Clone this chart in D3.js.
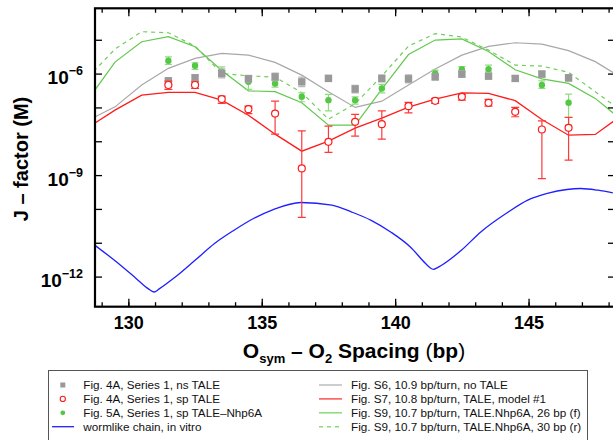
<!DOCTYPE html>
<html>
<head>
<meta charset="utf-8">
<script src="https://cdn.jsdelivr.net/npm/d3@7"></script>
<style>
  body { margin: 0; background: #fff; }
  svg { font-family: "Liberation Sans", Arial, sans-serif; }
</style>
</head>
<body>
<div id="chart"></div>
<script>
// measured points (M) at each O_sym-O2 spacing (bp)
var spacing = [131.5, 132.5, 133.5, 134.5, 135.5, 136.5, 137.5, 138.5, 139.5, 140.5, 141.5, 142.5, 143.5, 144.5, 145.5, 146.5];

var nsTale   = [6.1e-7, 7.5e-7, 1.01e-6, 7.0e-7, 8.0e-7, 5.7e-7, 7.2e-7, 3.5e-7, 7.2e-7, 7.0e-7, 8.0e-7, 9.7e-7, 8.4e-7, 7.2e-7, 9.7e-7, 7.5e-7];
var nsTaleLo = [4.9e-7, 6.0e-7, 7.4e-7, 5.6e-7, 6.2e-7, 4.1e-7, 5.9e-7, 2.7e-7, 5.7e-7, 5.3e-7, 6.5e-7, 7.7e-7, 7.0e-7, 6.0e-7, 7.9e-7, 6.0e-7];
var nsTaleHi = [7.6e-7, 9.3e-7, 1.38e-6, 8.8e-7, 1.03e-6, 7.9e-7, 8.8e-7, 4.5e-7, 9.1e-7, 9.2e-7, 9.8e-7, 1.22e-6, 1.01e-6, 8.6e-7, 1.19e-6, 9.4e-7];

var spTale   = [4.6e-7, 4.6e-7, 1.76e-7, 8.9e-8, 6.6e-8, 1.57e-9, 9.6e-9, 3.75e-8, 3.2e-8, 1.09e-7, 1.57e-7, 2.06e-7, 1.37e-7, 7.4e-8, 2.23e-8, 2.5e-8];
var spTaleLo = [3.4e-7, 3.65e-7, 1.31e-7, 6.6e-8, 1.62e-8, 5.6e-11, 4.7e-9, 1.42e-8, 1.15e-8, 6.9e-8, 1.31e-7, 1.64e-7, 1.09e-7, 5.3e-8, 7.9e-10, 2.76e-9];
var spTaleHi = [6.0e-7, 5.7e-7, 2.16e-7, 1.09e-7, 1.53e-7, 2.03e-8, 2.8e-8, 6.2e-8, 7.9e-8, 1.41e-7, 1.85e-7, 2.47e-7, 1.73e-7, 1.0e-7, 4.0e-8, 5.1e-8];

var nhp6a   = [2.39e-6, 1.70e-6, 1.13e-6, 5.7e-7, 5.1e-7, 2.06e-7, 1.64e-7, 1.64e-7, 3.65e-7, 7.0e-7, 1.01e-6, 1.33e-6, 1.36e-6, 7.2e-7, 4.6e-7, 1.37e-7];
var nhp6aLo = [1.87e-6, 1.33e-6, 8.0e-7, 3.4e-7, 4.0e-7, 1.47e-7, 7.9e-8, 1.25e-7, 2.7e-7, 6.0e-7, 8.0e-7, 1.1e-6, 1.13e-6, 6.2e-7, 3.65e-7, 3.0e-8];
var nhp6aHi = [3.14e-6, 2.09e-6, 1.59e-6, 7.7e-7, 6.4e-7, 2.7e-7, 2.43e-7, 2.06e-7, 4.8e-7, 8.2e-7, 1.27e-6, 1.6e-6, 1.78e-6, 8.4e-7, 6.1e-7, 2.47e-7];

// model curves, one value per spacing
var modelSpacing = [128.5, 129.5, 130.5, 131.5, 132.5, 133.5, 134.5, 135.5, 136.5, 137.5, 138.5, 139.5, 140.5, 141.5, 142.5, 143.5, 144.5, 145.5, 146.5, 147.5, 148.5];
var noTaleModel = [4.2e-8, 1.04e-7, 4.57e-7, 1.43e-6, 2.82e-6, 3.96e-6, 3.52e-6, 2.14e-6, 9.0e-7, 2.9e-7, 1.0e-7, 1.53e-7, 4.57e-7, 1.36e-6, 3.52e-6, 6.38e-6, 8.15e-6, 7.46e-6, 4.79e-6, 2.26e-6, 7.36e-7];
var taleModel1  = [2.61e-8, 8.3e-8, 2.31e-7, 2.78e-7, 2.78e-7, 1.64e-7, 5.9e-8, 1.62e-8, 5.1e-9, 1.01e-8, 2.44e-8, 4.8e-8, 1.02e-7, 1.76e-7, 2.7e-7, 2.59e-7, 1.59e-7, 4.4e-8, 1.51e-8, 1.59e-8, 5.9e-8];
var nhp26Model  = [1.76e-7, 2.19e-6, 8.73e-6, 1.23e-5, 6.21e-6, 1.23e-6, 3.1e-7, 2.93e-7, 1.37e-7, 2.99e-8, 2.99e-8, 3.48e-7, 3.65e-6, 9.79e-6, 1.06e-5, 4.48e-6, 1.3e-6, 6.97e-7, 5.13e-7, 1.85e-7, 4.2e-8];
var nhp30Model  = [7.87e-7, 5.31e-6, 1.73e-5, 1.61e-5, 6.52e-6, 1.01e-6, 8.55e-7, 7.87e-7, 2.74e-7, 4.51e-8, 1.29e-7, 8.43e-7, 6.52e-6, 1.51e-5, 1.2e-5, 4.95e-6, 1.78e-6, 1.67e-6, 1.09e-6, 2.9e-7, 7.78e-8];

// wormlike chain, in vitro
var wlcSpacing = [128.75, 129.56, 130.30, 130.74, 130.96, 131.17, 131.76, 132.50, 133.23, 133.96, 134.69, 135.43, 136.47, 137.63, 138.37, 139.10, 139.83, 140.57, 141.14, 141.30, 141.44, 141.59, 141.74, 142.48, 143.21, 144.24, 144.97, 145.70, 146.44, 146.95, 147.60, 148.16];
var wlcJ = [8.4e-12, 2.7e-12, 8.7e-13, 4.4e-13, 3.5e-13, 4.4e-13, 9.7e-13, 3.03e-12, 9.5e-12, 2.34e-11, 5.2e-11, 9.6e-11, 1.55e-10, 1.29e-10, 8.1e-11, 4.6e-11, 2.09e-11, 7.5e-12, 2.43e-12, 1.85e-12, 1.64e-12, 1.85e-12, 2.16e-12, 6.0e-12, 2.09e-11, 8.1e-11, 1.81e-10, 2.86e-10, 3.75e-10, 4.02e-10, 3.57e-10, 2.97e-10];

var xMajor = [130, 135, 140, 145];
var xMinor = d3.range(129, 149);
var yDecades = [1e-12, 1e-11, 1e-10, 1e-9, 1e-8, 1e-7, 1e-6, 1e-5];
var yLabels = [[1e-12, "12"], [1e-9, "9"], [1e-6, "6"]];

var legendLeft = [
    { label: "Fig. 4A, Series 1, ns TALE", kind: "square" },
    { label: "Fig. 4A, Series 1, sp TALE", kind: "circle" },
    { label: "Fig. 5A, Series 1, sp TALE\u2013Nhp6A", kind: "dot" },
    { label: "wormlike chain, in vitro", kind: "blue" }
];
var legendRight = [
    { label: "Fig. S6, 10.9 bp/turn, no TALE", color: "#bdbdbd", dash: null },
    { label: "Fig. S7, 10.8 bp/turn, TALE, model #1", color: "#ff5050", dash: null },
    { label: "Fig. S9, 10.7 bp/turn, TALE.Nhp6A, 26 bp (f)", color: "#88dd77", dash: null },
    { label: "Fig. S9, 10.7 bp/turn, TALE.Nhp6A, 30 bp (r)", color: "#88dd77", dash: "4,4" }
];

(function () {
    var width = 613, height = 440;
    var pLeft = 95, pRight = 615, pTop = 8.3, pBottom = 306.7;

    var svg = d3.select("#chart").append("svg")
        .attr("width", width)
        .attr("height", height);

    var x = d3.scaleLinear().domain([128.75, 148.24]).range([pLeft, pRight]);
    var y = d3.scaleLog().domain([Math.pow(10, -12.89), Math.pow(10, -4.07)]).range([pBottom, pTop]);

    svg.append("defs").append("clipPath").attr("id", "plot")
        .append("rect")
        .attr("x", pLeft).attr("y", pTop)
        .attr("width", pRight - pLeft).attr("height", pBottom - pTop);

    var plot = svg.append("g").attr("clip-path", "url(#plot)");

    function lineOf(xs, ys, curve) {
        return d3.line()
            .x(function(d, i) { return x(xs[i]); })
            .y(function(d) { return y(d); })
            .curve(curve || d3.curveLinear)(ys);
    }

    // model curves
    plot.append("path").attr("d", lineOf(wlcSpacing, wlcJ, d3.curveMonotoneX))
        .attr("fill", "none").attr("stroke", "#1f1fff").attr("stroke-width", 1.3);
    plot.append("path").attr("d", lineOf(modelSpacing, noTaleModel))
        .attr("fill", "none").attr("stroke", "#a8a8a8").attr("stroke-width", 1.2);
    plot.append("path").attr("d", lineOf(modelSpacing, nhp30Model))
        .attr("fill", "none").attr("stroke", "#6fce5a").attr("stroke-width", 1.2)
        .attr("stroke-dasharray", "4,4");
    plot.append("path").attr("d", lineOf(modelSpacing, nhp26Model))
        .attr("fill", "none").attr("stroke", "#62c94f").attr("stroke-width", 1.2);
    plot.append("path").attr("d", lineOf(modelSpacing, taleModel1))
        .attr("fill", "none").attr("stroke", "#ff1c1c").attr("stroke-width", 1.3);

    function errorBars(lo, hi, color, cap, sw) {
        var g = plot.append("g").attr("stroke", color).attr("stroke-width", sw);
        spacing.forEach(function(s, i) {
            var cx = x(s);
            g.append("line").attr("x1", cx).attr("x2", cx).attr("y1", y(lo[i])).attr("y2", y(hi[i]));
            g.append("line").attr("x1", cx - cap).attr("x2", cx + cap).attr("y1", y(lo[i])).attr("y2", y(lo[i]));
            g.append("line").attr("x1", cx - cap).attr("x2", cx + cap).attr("y1", y(hi[i])).attr("y2", y(hi[i]));
        });
    }

    // TALE-Nhp6A
    errorBars(nhp6aLo, nhp6aHi, "#8fdc80", 3.5, 1.2);
    plot.append("g").selectAll("circle").data(nhp6a).enter().append("circle")
        .attr("cx", function(d, i) { return x(spacing[i]); })
        .attr("cy", function(d) { return y(d); })
        .attr("r", 3.2)
        .attr("fill", "#56c646");

    // ns TALE
    errorBars(nsTaleLo, nsTaleHi, "#b8b8b8", 3.5, 1.2);
    plot.append("g").selectAll("rect").data(nsTale).enter().append("rect")
        .attr("x", function(d, i) { return x(spacing[i]) - 3.7; })
        .attr("y", function(d) { return y(d) - 3.7; })
        .attr("width", 7.4).attr("height", 7.4)
        .attr("fill", "#999999");

    // sp TALE
    errorBars(spTaleLo, spTaleHi, "#ff3838", 4, 1.2);
    plot.append("g").selectAll("circle").data(spTale).enter().append("circle")
        .attr("cx", function(d, i) { return x(spacing[i]); })
        .attr("cy", function(d) { return y(d); })
        .attr("r", 3.5)
        .attr("fill", "#fff")
        .attr("stroke", "#ff1c1c")
        .attr("stroke-width", 1.2);

    // axes: ticks pointing inward on all four sides
    function styleAxis(g) {
        g.select(".domain").remove();
        g.selectAll(".tick line").attr("stroke", "#000").attr("stroke-width", 1.3);
    }

    svg.append("g").attr("transform", "translate(0," + pBottom + ")")
        .call(d3.axisBottom(x).tickValues(xMinor).tickSize(-4.5).tickFormat(""))
        .call(styleAxis);
    svg.append("g").attr("transform", "translate(0," + pBottom + ")")
        .call(d3.axisBottom(x).tickValues(xMajor).tickSize(-8).tickPadding(10).tickFormat(d3.format("d")))
        .call(styleAxis)
        .selectAll("text")
        .attr("font-size", 18).attr("font-weight", "bold").attr("fill", "#000")
        .attr("font-family", "Liberation Sans, Arial, sans-serif");
    svg.append("g").attr("transform", "translate(0," + pTop + ")")
        .call(d3.axisTop(x).tickValues(xMinor).tickSize(-4.5).tickFormat(""))
        .call(styleAxis);
    svg.append("g").attr("transform", "translate(0," + pTop + ")")
        .call(d3.axisTop(x).tickValues(xMajor).tickSize(-8).tickFormat(""))
        .call(styleAxis);
    svg.append("g").attr("transform", "translate(" + pLeft + ",0)")
        .call(d3.axisLeft(y).tickValues(yDecades).tickSize(-7).tickFormat(""))
        .call(styleAxis);
    svg.append("g").attr("transform", "translate(" + pRight + ",0)")
        .call(d3.axisRight(y).tickValues(yDecades).tickSize(-7).tickFormat(""))
        .call(styleAxis);

    svg.append("rect")
        .attr("x", pLeft).attr("y", pTop)
        .attr("width", pRight - pLeft).attr("height", pBottom - pTop)
        .attr("fill", "none").attr("stroke", "#000").attr("stroke-width", 2.2);

    // y tick labels as 10^-n
    yLabels.forEach(function(p) {
        var t = svg.append("text")
            .attr("x", 83).attr("y", y(p[0]) + 10.5)
            .attr("text-anchor", "end")
            .attr("font-weight", "bold");
        t.append("tspan").attr("font-size", 19).text("10");
        t.append("tspan").attr("font-size", 12.5).attr("dy", -9).text("\u2212" + p[1]);
    });

    // axis titles
    var xt = svg.append("text")
        .attr("x", 354).attr("y", 358)
        .attr("text-anchor", "middle")
        .attr("font-size", 21).attr("font-weight", "bold");
    xt.append("tspan").text("O");
    xt.append("tspan").attr("font-size", 13).attr("dy", 5).text("sym");
    xt.append("tspan").attr("dy", -5).text(" \u2013 O");
    xt.append("tspan").attr("font-size", 13).attr("dy", 5).text("2");
    xt.append("tspan").attr("dy", -5).text(" Spacing ");
    xt.append("tspan").attr("font-weight", "normal").text("(");
    xt.append("tspan").text("bp");
    xt.append("tspan").attr("font-weight", "normal").text(")");

    svg.append("text")
        .attr("transform", "translate(28,159) rotate(-90)")
        .attr("text-anchor", "middle")
        .attr("font-size", 20).attr("font-weight", "bold")
        .text("J \u2013 factor (M)");

    // legend
    var legend = svg.append("g");
    legend.append("rect")
        .attr("x", 48.5).attr("y", 370.5)
        .attr("width", 539).attr("height", 75)
        .attr("fill", "#fff").attr("stroke", "#555").attr("stroke-width", 1);

    var rowY = function(i) { return 385 + i * 13.9; };

    legendLeft.forEach(function(item, i) {
        var cy = rowY(i);
        if (item.kind === "square") {
            legend.append("rect").attr("x", 60.3).attr("y", cy - 2.5).attr("width", 5).attr("height", 5).attr("fill", "#999");
        } else if (item.kind === "circle") {
            legend.append("circle").attr("cx", 62.8).attr("cy", cy).attr("r", 2.6)
                .attr("fill", "#fff").attr("stroke", "#ff1c1c").attr("stroke-width", 1.1);
        } else if (item.kind === "dot") {
            legend.append("circle").attr("cx", 62.8).attr("cy", cy).attr("r", 2.4).attr("fill", "#56c646");
        } else {
            legend.append("line").attr("x1", 52).attr("x2", 74).attr("y1", cy).attr("y2", cy)
                .attr("stroke", "#1f1fff").attr("stroke-width", 1.3);
        }
        legend.append("text").attr("x", 83.3).attr("y", cy + 4)
            .attr("font-size", 11.7).attr("fill", "#111").text(item.label);
    });

    legendRight.forEach(function(item, i) {
        var cy = rowY(i);
        legend.append("line").attr("x1", 319).attr("x2", 342).attr("y1", cy).attr("y2", cy)
            .attr("stroke", item.color).attr("stroke-width", 1.5)
            .attr("stroke-dasharray", item.dash);
        legend.append("text").attr("x", 351).attr("y", cy + 4)
            .attr("font-size", 11.7).attr("fill", "#111").text(item.label);
    });
})();
</script>
</body>
</html>
